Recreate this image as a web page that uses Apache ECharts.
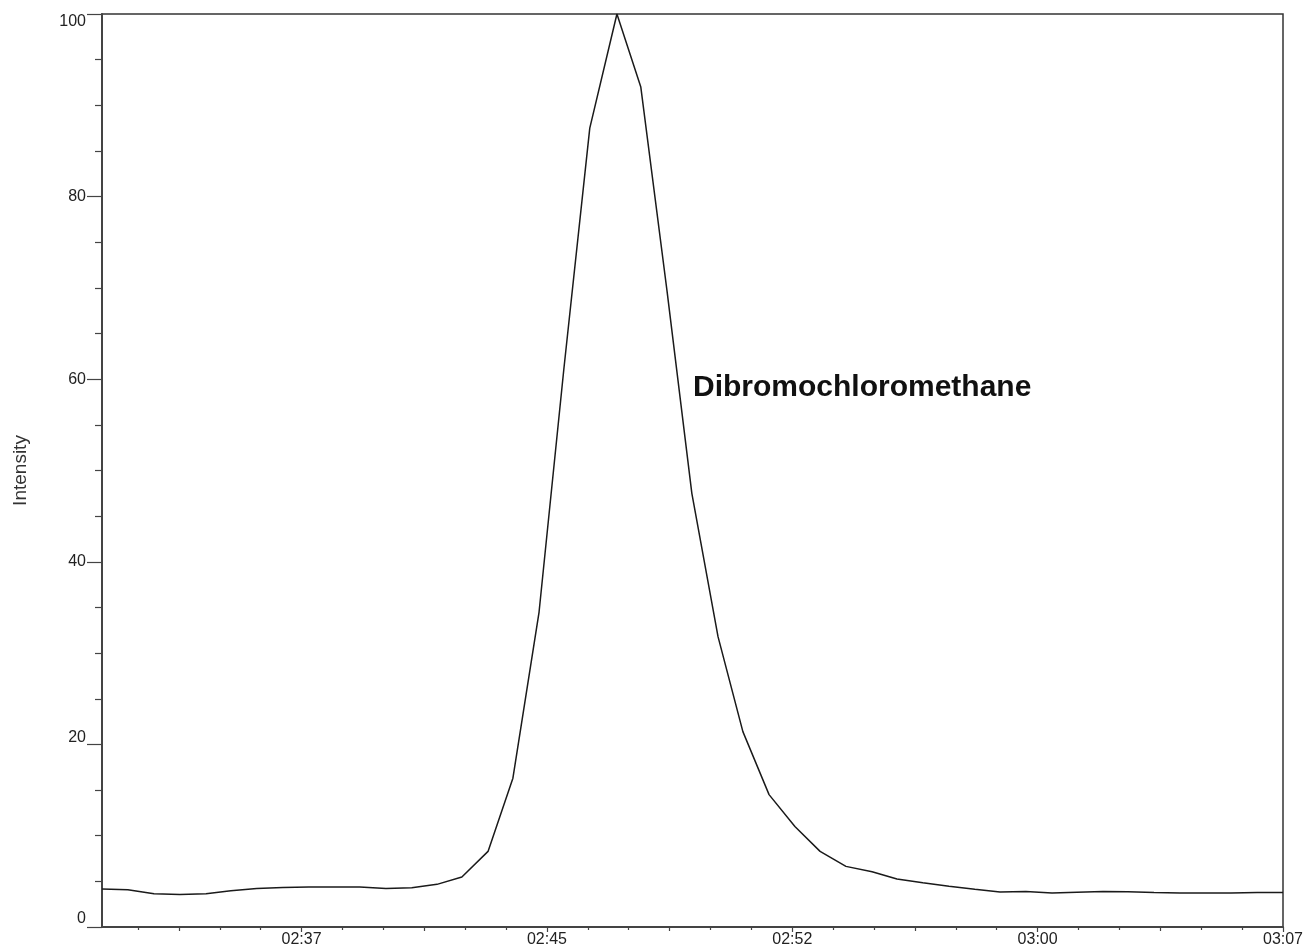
<!DOCTYPE html>
<html>
<head>
<meta charset="utf-8">
<script src="https://cdn.jsdelivr.net/npm/echarts@6/dist/echarts.min.js"></script>
<style>
  html, body { margin: 0; padding: 0; background: #ffffff; }
  #chart { width: 1303px; height: 949px; }
</style>
</head>
<body>
<div id="chart"></div>
<script>
// Retention time (seconds) of each scan
const times = [151.40,152.19,152.99,153.78,154.58,155.34,156.13,156.93,157.72,158.49,
  159.28,160.08,160.87,161.64,162.40,163.20,163.96,164.76,165.52,166.31,
  167.14,167.87,168.67,169.43,170.23,170.99,171.79,172.58,173.35,174.14,
  174.94,175.70,176.49,177.29,178.08,178.85,179.64,180.44,181.20,182.00,
  182.76,183.56,184.35,185.15,185.91,186.71,187.50];

// Relative intensity (%) of each scan
const intensity = [4.16,4.09,3.65,3.57,3.65,3.98,4.23,4.34,4.38,4.38,
  4.38,4.23,4.30,4.67,5.48,8.28,16.3,34.5,61.2,87.5,
  100,92.0,69.7,47.5,31.8,21.4,14.5,11.0,8.28,6.64,
  6.06,5.26,4.85,4.47,4.14,3.83,3.90,3.72,3.81,3.90,
  3.87,3.79,3.72,3.72,3.72,3.79,3.79];

const compoundName = 'Dibromochloromethane';

// Time axis range and tick positions (seconds)
const timeMin = 151.4;
const timeMax = 187.5;
const timeMajorTicks = [157.5, 165, 172.5, 180, 187.5];
const timeMidTicks = [153.75, 161.25, 168.75, 176.25, 183.75];
const timeMinorTicks = [152.5, 155, 156.25, 158.75, 160, 162.5, 163.75,
  166.25, 167.5, 170, 171.25, 173.75, 175, 177.5, 178.75,
  181.25, 182.5, 185, 186.25];

// Intensity axis ticks
const intensityMin = 0;
const intensityMax = 100;
const intensityStep = 20;

const FONT = '"Liberation Sans", Arial, Helvetica, sans-serif';
const AXIS_COLOR = '#444';
const TEXT_COLOR = '#222';

function mmss(v) {
  const m = Math.floor(v / 60);
  const s = Math.floor(v - m * 60);
  return String(m).padStart(2, '0') + ':' + String(s).padStart(2, '0');
}

const chart = echarts.init(document.getElementById('chart'), null, { renderer: 'canvas' });

const hiddenTickAxis = (ticks, len) => ({
  type: 'value',
  gridIndex: 0,
  position: 'bottom',
  min: timeMin,
  max: timeMax,
  axisLine: { show: false },
  splitLine: { show: false },
  axisLabel: { show: false },
  axisTick: {
    show: true,
    customValues: ticks,
    length: len,
    lineStyle: { color: AXIS_COLOR, width: 1.2 }
  }
});

chart.setOption({
  animation: false,
  backgroundColor: '#ffffff',
  grid: {
    left: 102, right: 20, top: 14, bottom: 22,
    outerBoundsMode: 'none',
    containLabel: false,
    show: true,
    borderColor: '#333',
    borderWidth: 1.5,
    backgroundColor: 'transparent'
  },
  xAxis: [
    {
      type: 'value',
      min: timeMin,
      max: timeMax,
      axisLine: { show: true, onZero: false, lineStyle: { color: AXIS_COLOR, width: 2 } },
      splitLine: { show: false },
      axisTick: {
        show: true,
        customValues: timeMajorTicks,
        length: 5,
        lineStyle: { color: AXIS_COLOR, width: 1.2 }
      },
      axisLabel: {
        customValues: timeMajorTicks,
        formatter: mmss,
        margin: 5,
        fontFamily: FONT,
        fontSize: 16,
        color: TEXT_COLOR
      }
    },
    hiddenTickAxis(timeMidTicks, 4),
    hiddenTickAxis(timeMinorTicks, 3)
  ],
  yAxis: {
    type: 'value',
    min: intensityMin,
    max: intensityMax,
    interval: intensityStep,
    name: 'Intensity',
    nameLocation: 'middle',
    nameGap: 72,
    nameTextStyle: { fontFamily: FONT, fontSize: 19, color: '#333' },
    axisLine: { show: true, onZero: false, lineStyle: { color: AXIS_COLOR, width: 2 } },
    splitLine: { show: false },
    axisTick: { show: true, length: 15, lineStyle: { color: AXIS_COLOR, width: 1.2 } },
    minorTick: { show: true, splitNumber: 4, length: 7, lineStyle: { color: AXIS_COLOR, width: 1.2 } },
    minorSplitLine: { show: false },
    axisLabel: {
      margin: 16,
      fontFamily: FONT,
      fontSize: 16,
      color: TEXT_COLOR,
      verticalAlignMinLabel: 'bottom',
      verticalAlignMaxLabel: 'top',
      formatter: v => (v === 20 ? '{raise|' + v + '}' : String(v)),
      rich: {
        raise: { fontFamily: FONT, fontSize: 16, color: TEXT_COLOR, padding: [0, 0, 14, 0] }
      }
    }
  },
  series: [{
    type: 'line',
    xAxisIndex: 0,
    data: times.map((t, i) => [t, intensity[i]]),
    showSymbol: false,
    smooth: false,
    lineStyle: { color: '#1a1a1a', width: 1.5 },
    z: 5
  }],
  graphic: [{
    type: 'text',
    x: 693,
    y: 388,
    style: {
      text: compoundName,
      font: 'bold 30px ' + FONT,
      fill: '#111',
      textVerticalAlign: 'middle',
      verticalAlign: 'middle'
    }
  }]
});
</script>
</body>
</html>
